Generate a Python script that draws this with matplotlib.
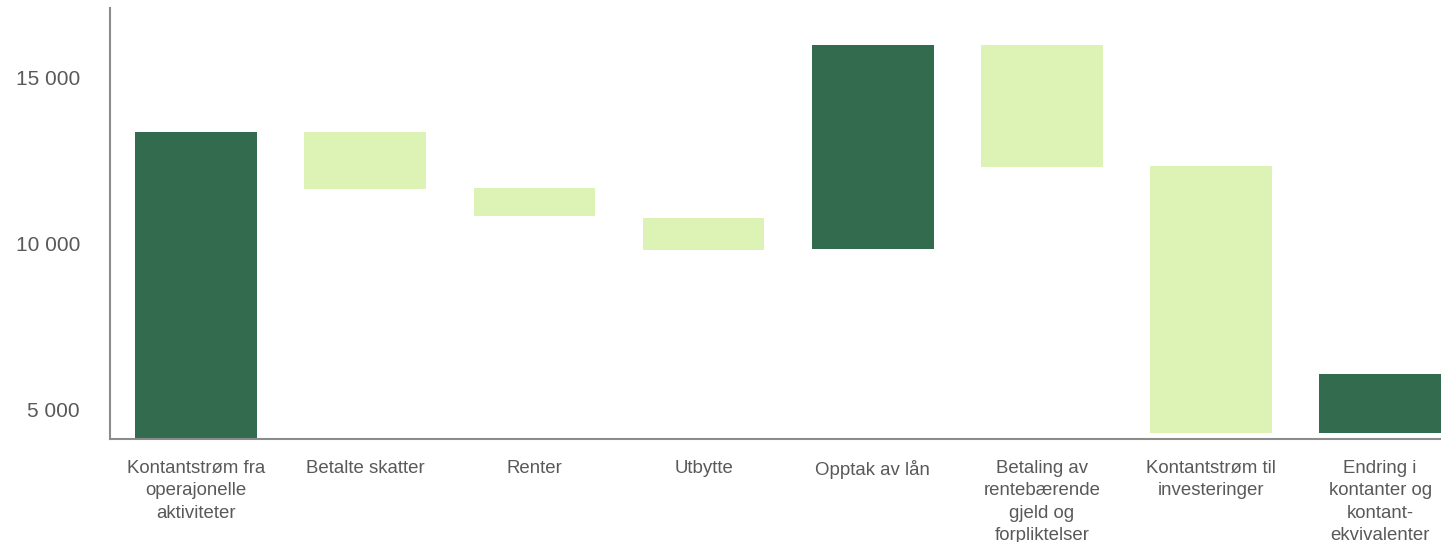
import numpy as np
import matplotlib.pyplot as plt

plt.rcParams['font.family'] = ['Liberation Sans', 'DejaVu Sans']

# --- kontantstrøm, fosstrinn (start- og sluttnivå for hver søyle) ---
categories = [
    "Kontantstrøm fra\noperajonelle\naktiviteter",
    "Betalte skatter",
    "Renter",
    "Utbytte",
    "Opptak av lån",
    "Betaling av\nrentebærende\ngjeld og\nforpliktelser",
    "Kontantstrøm til\ninvesteringer",
    "Endring i\nkontanter og\nkontant-\nekvivalenter",
]
start = [0, 13370, 11685, 10780, 9820, 15985, 12340, 4270]
end = [13370, 11650, 10835, 9815, 15985, 12295, 4270, 6065]
is_total = [True, False, False, False, True, False, False, True]

dark = "#336B4F"
light = "#DDF3B6"

start = np.array(start)
end = np.array(end)
x = np.arange(len(categories))

fig = plt.figure(figsize=(14.41, 5.42), dpi=100)
ax = fig.add_axes([0.0763, 0.19, 0.9237, 0.795])

colors = [dark if t else light for t in is_total]
ax.bar(x, np.abs(end - start), bottom=np.minimum(start, end), width=0.72,
       color=colors, linewidth=0)

ax.set_xlim(-0.51, 7.36)
ax.set_ylim(4100, 17100)
ax.set_yticks([5000, 10000, 15000])
ax.set_yticklabels(["5 000", "10 000", "15 000"])
ax.set_xticks(x)
ax.set_xticklabels(categories, fontsize=13.4, color="#595959", linespacing=1.42,
                   va="top")
ax.tick_params(axis="y", length=0, pad=21.5, labelsize=15, labelcolor="#595959")
ax.tick_params(axis="x", length=0, pad=15)

for side in ["top", "right"]:
    ax.spines[side].set_visible(False)
for side in ["left", "bottom"]:
    ax.spines[side].set_color("#8c8c8c")
    ax.spines[side].set_linewidth(1.5)

fig.savefig("out.png", dpi=100)
